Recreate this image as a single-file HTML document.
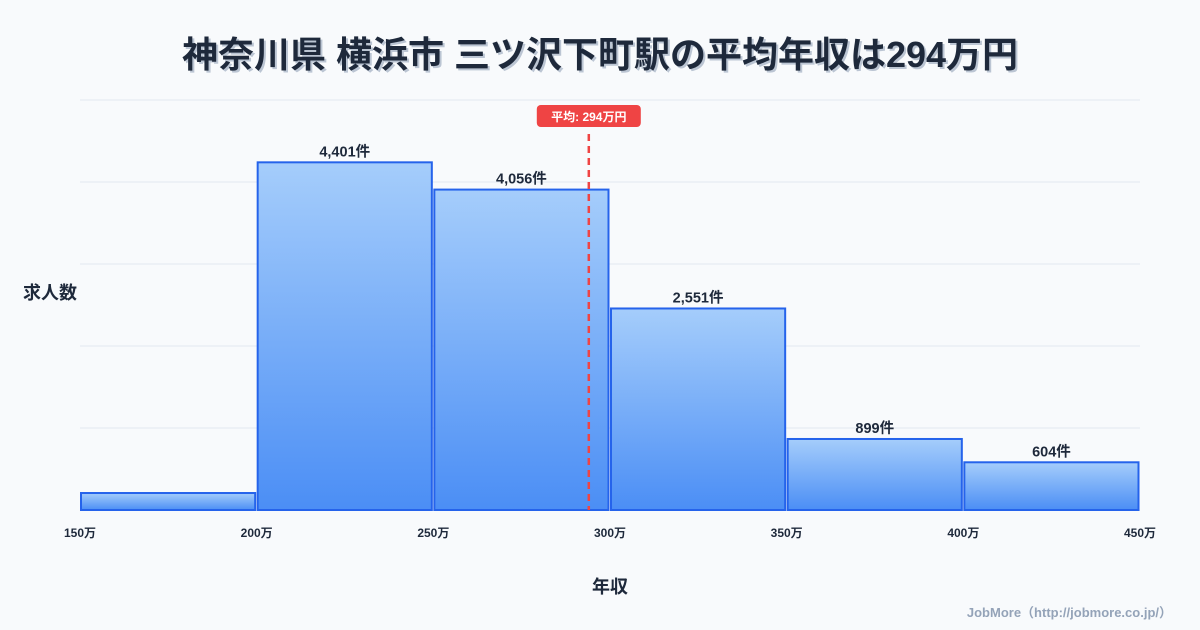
<!DOCTYPE html>
<html><head><meta charset="utf-8"><style>
body{margin:0;background:#f8fafc;}
svg{display:block;font-family:"Liberation Sans","Noto Sans CJK JP",sans-serif;}
</style></head><body>
<svg id="c" width="1200" height="630">
<defs><linearGradient id="g" x1="0" y1="0" x2="0" y2="1"><stop offset="0" stop-color="#a5cdfb"/><stop offset="1" stop-color="#4b8ef5"/></linearGradient></defs>
<text x="602" y="69" text-anchor="middle" font-size="36" font-weight="bold" fill="#94a3b8" opacity="0.6">神奈川県 横浜市 三ツ沢下町駅の平均年収は294万円</text>
<text x="600" y="67" text-anchor="middle" font-size="36" font-weight="bold" fill="#1e293b">神奈川県 横浜市 三ツ沢下町駅の平均年収は294万円</text>
<text x="50" y="299" text-anchor="middle" font-size="18" font-weight="bold" fill="#1e293b">求人数</text>
<text x="610" y="593" text-anchor="middle" font-size="18" font-weight="bold" fill="#1e293b">年収</text>
<text x="1172" y="617" text-anchor="end" font-size="13" font-weight="bold" fill="#94a3b8">JobMore（http://jobmore.co.jp/）</text>
</svg>
<script>
const binStarts=[150,200,250,300,350,400];
const binWidth=50;
const counts=[215,4401,4056,2551,899,604];
const countLabels=["","4,401件","4,056件","2,551件","899件","604件"];
const xTicks=[150,200,250,300,350,400,450];
const meanValue=294;
const meanLabel="平均: 294万円";
const yMax=5190;
const NS="http://www.w3.org/2000/svg";
const svg=document.getElementById('c');
const x=v=>80+(v-150)*(1060/300);
const y=v=>510-v*(410/yMax);
function mk(t,a,p){const e=document.createElementNS(NS,t);for(const k in a)e.setAttribute(k,a[k]);(p||svg).appendChild(e);return e;}
for(let i=0;i<=5;i++){const gy=510-i*82;const l=mk('line',{x1:80,x2:1140,y1:gy,y2:gy,stroke:'#e2e8f0','stroke-width':1});

}
counts.forEach((c,i)=>{const x0=x(binStarts[i])+1,x1=x(binStarts[i]+binWidth)-1.5;
const r=mk('rect',{x:x0,y:y(c),width:x1-x0,height:510-y(c),fill:'url(#g)',stroke:'#2563eb','stroke-width':2});


if(countLabels[i]){const t=mk('text',{x:(x0+x1)/2,y:y(c)-6,'text-anchor':'middle','font-size':14.5,'font-weight':'bold',fill:'#1e293b'});t.textContent=countLabels[i];

}
});
xTicks.forEach(v=>{const t=mk('text',{x:x(v),y:537,'text-anchor':'middle','font-size':12,'font-weight':'bold',fill:'#1e293b'});t.textContent=v+'万';

});
const mx=x(meanValue);
const ml=mk('line',{x1:mx,x2:mx,y1:134,y2:510,stroke:'#ef4444','stroke-width':2.5,'stroke-dasharray':'7,5'});


const mb=mk('rect',{x:mx-52,y:105,width:104,height:22,rx:4,fill:'#ef4444'});


const mt=mk('text',{x:mx,y:121,'text-anchor':'middle','font-size':12,'font-weight':'bold',fill:'#fff'});mt.textContent=meanLabel;


</script>
</body></html>
